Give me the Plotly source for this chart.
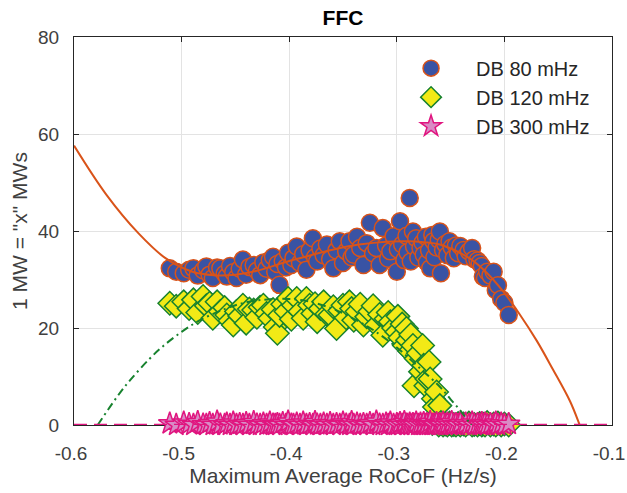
import plotly.graph_objects as go

# Shared RoCoF values (Hz/s) for each event
x = [-0.511, -0.505, -0.498, -0.493, -0.489, -0.485, -0.480, -0.477, -0.474, -0.471,
     -0.467, -0.464, -0.460, -0.458, -0.455, -0.452, -0.449, -0.446, -0.443, -0.440,
     -0.437, -0.433, -0.430, -0.427, -0.424, -0.421, -0.418, -0.415, -0.413, -0.411,
     -0.409, -0.406, -0.403, -0.401, -0.398, -0.396, -0.393, -0.390, -0.387, -0.384,
     -0.381, -0.378, -0.376, -0.374, -0.371, -0.368, -0.365, -0.362, -0.359, -0.356,
     -0.353, -0.350, -0.347, -0.344, -0.342, -0.340, -0.337, -0.334, -0.331, -0.328,
     -0.325, -0.322, -0.319, -0.316, -0.313, -0.310, -0.308, -0.306, -0.303, -0.300,
     -0.299, -0.297, -0.295, -0.293, -0.291, -0.290, -0.288, -0.287, -0.285, -0.284,
     -0.282, -0.280, -0.278, -0.276, -0.275, -0.273, -0.272, -0.270, -0.269, -0.267,
     -0.266, -0.265, -0.263, -0.261, -0.260, -0.259, -0.257, -0.255, -0.253, -0.251,
     -0.249, -0.247, -0.245, -0.243, -0.241, -0.238, -0.236, -0.233, -0.230, -0.228,
     -0.225, -0.223, -0.221, -0.220, -0.218, -0.216, -0.213, -0.210, -0.208, -0.206,
     -0.203, -0.200, -0.196]

db80 = [32.3, 31.6, 31.3, 32.0, 32.3, 30.8, 31.9, 32.7, 31.0, 30.3,
        32.5, 32.3, 31.2, 30.6, 32.8, 31.5, 30.3, 32.2, 34.1, 31.0,
        32.6, 33.0, 31.8, 30.9, 33.5, 32.2, 34.0, 34.7, 31.6, 33.2,
        28.9, 33.8, 32.5, 35.5, 33.0, 34.4, 36.8, 33.4, 35.2, 32.0,
        36.0, 38.5, 34.6, 33.7, 36.4, 35.0, 37.2, 34.2, 32.3, 36.0,
        37.9, 33.4, 35.8, 37.9, 34.6, 35.1, 38.8, 36.5, 33.0, 37.5,
        41.7, 35.4, 36.5, 33.0, 40.6, 37.0, 34.3, 35.8, 38.9, 31.6,
        36.2, 42.0, 37.2, 34.0, 39.0, 35.6, 46.8, 33.7, 39.9, 36.8,
        38.5, 34.5, 36.5, 37.6, 35.1, 38.8, 33.5, 36.0, 32.3, 39.2,
        37.9, 34.6, 36.6, 38.2, 39.9, 31.3, 36.1, 37.3, 35.0, 37.9,
        36.6, 34.4, 37.0, 35.4, 36.9, 36.1, 34.8, 35.8, 36.5, 34.2,
        33.9, 33.4, 32.8, 30.6, 30.3, 31.6, 30.8, 31.6, 27.8, 28.8,
        26.0, 25.2, 22.7]

db120 = [25.1, 24.5, 25.4, 24.0, 25.8, 23.2, 26.5, 24.6, 25.1, 22.0,
         25.4, 23.4, 24.2, 22.7, 21.5, 20.6, 23.4, 22.5, 24.7, 21.0,
         23.9, 23.7, 22.2, 24.3, 24.7, 23.0, 22.0, 23.8, 20.2, 18.9,
         22.6, 24.9, 23.4, 26.1, 21.8, 24.7, 26.1, 23.4, 22.0, 26.1,
         24.7, 23.0, 25.0, 21.3, 24.0, 25.4, 22.9, 22.7, 24.4, 19.9,
         23.6, 24.7, 22.1, 25.4, 24.0, 21.6, 23.4, 24.9, 20.6, 22.3,
         23.4, 24.6, 20.6, 22.8, 18.5, 21.9, 23.2, 21.3, 20.0, 19.2,
         22.4, 18.0, 20.8, 16.4, 19.9, 17.5, 15.2, 18.6, 16.4, 8.1,
         13.7, 14.8, 11.0, 16.4, 12.3, 8.1, 9.5, 13.0, 9.5, 0.3,
         5.4, 3.7, 6.8, 0.0, 4.0, 0.5, 0.0, 0.2, 0.0, 0.4,
         0.0, 0.1, 0.0, 0.3, 0.0, 0.2, 0.0, 0.4, 0.0, 0.1,
         0.0, 0.3, 0.0, 0.2, 0.0, 0.5, 0.0, 0.2, 0.0, 0.4,
         0.0, 0.2, 0.0]

db300 = [0.3, 0.0, 0.5, 0.2, 0.0, 0.6, 0.1, 0.0, 0.4, 0.0,
         0.7, 0.1, 0.0, 0.3, 0.0, 0.5, 0.0, 0.2, 0.0, 0.4,
         0.0, 0.6, 0.1, 0.0, 0.3, 0.0, 0.5, 0.1, 0.0, 0.2,
         0.0, 0.4, 0.0, 0.7, 0.1, 0.0, 0.3, 0.0, 0.5, 0.0,
         0.2, 0.0, 0.6, 0.1, 0.0, 0.3, 0.0, 0.4, 0.0, 0.2,
         0.0, 0.5, 0.1, 0.0, 0.6, 0.0, 0.3, 0.0, 0.2, 0.0,
         0.4, 0.0, 0.7, 0.1, 0.0, 0.3, 0.0, 0.5, 0.0, 0.2,
         0.0, 0.4, 0.0, 0.6, 0.1, 0.0, 0.3, 0.0, 0.2, 0.0,
         0.5, 0.0, 0.3, 0.0, 0.4, 0.0, 0.2, 0.0, 0.6, 0.0,
         0.1, 0.0, 0.4, 0.0, 0.2, 0.0, 0.5, 0.0, 0.3, 0.0,
         0.6, 0.0, 0.2, 0.0, 0.4, 0.0, 0.3, 0.0, 0.5, 0.0,
         0.2, 0.0, 0.4, 0.0, 0.3, 0.0, 0.2, 0.0, 0.5, 0.0,
         0.3, 0.0, 0.2]

# Fitted trend curves
fit80_x = [-0.60, -0.57, -0.54, -0.515, -0.49, -0.47, -0.45, -0.43, -0.40, -0.38,
           -0.355, -0.335, -0.31, -0.29, -0.275, -0.26, -0.232, -0.216, -0.201, -0.186,
           -0.170, -0.155, -0.139, -0.130, -0.125]
fit80_y = [57.6, 47.5, 39.5, 34.4, 31.6, 30.9, 31.0, 31.8, 33.8, 35.0,
           36.4, 37.2, 37.8, 37.9, 37.7, 37.2, 34.3, 31.3, 27.5, 22.9,
           17.4, 11.5, 4.9, 0.0, -3.0]

fit120_x = [-0.578, -0.56, -0.548, -0.53, -0.517, -0.50, -0.483, -0.46, -0.44, -0.42,
            -0.40, -0.38, -0.36, -0.347, -0.334, -0.32, -0.30, -0.28, -0.26, -0.25,
            -0.24, -0.232, -0.228]
fit120_y = [0.0, 5.8, 9.2, 13.6, 16.3, 19.2, 21.6, 23.9, 25.3, 25.9,
            26.0, 25.4, 24.0, 22.7, 21.2, 19.3, 16.0, 12.0, 7.9, 5.3,
            2.7, 0.3, -1.0]

fit300_x = [-0.60, -0.10]
fit300_y = [0.0, 0.0]

x_ticks = [-0.6, -0.5, -0.4, -0.3, -0.2, -0.1]
x_tick_text = ['-0.6', '-0.5', '-0.4', '-0.3', '-0.2', '-0.1']
y_ticks = [0, 20, 40, 60, 80]

fig = go.Figure()
fig.add_trace(go.Scatter(
    x=x, y=db80, mode='markers', name='DB 80 mHz', cliponaxis=False,
    marker=dict(symbol='circle', size=17, color='#3953A4',
                line=dict(color='#D95319', width=1.5))))
fig.add_trace(go.Scatter(
    x=x, y=db120, mode='markers', name='DB 120 mHz', cliponaxis=False,
    marker=dict(symbol='diamond', size=18, color='#F2EA16',
                line=dict(color='#17822E', width=1.5))))
fig.add_trace(go.Scatter(
    x=x, y=db300, mode='markers', name='DB 300 mHz', cliponaxis=False,
    marker=dict(symbol='star', size=17, color='#D98BC5',
                line=dict(color='#E0157F', width=1.5))))
fig.add_trace(go.Scatter(
    x=fit80_x, y=fit80_y, mode='lines', showlegend=False, hoverinfo='skip',
    line=dict(color='#D95319', width=2, shape='spline')))
fig.add_trace(go.Scatter(
    x=fit120_x, y=fit120_y, mode='lines', showlegend=False, hoverinfo='skip',
    line=dict(color='#17822E', width=2, shape='spline', dash='8px,4px,2px,4px')))
fig.add_trace(go.Scatter(
    x=fit300_x, y=fit300_y, mode='lines', showlegend=False, hoverinfo='skip',
    line=dict(color='#E0157F', width=2.5, dash='13px,7px')))

axis_common = dict(
    showline=True, linecolor='#262626', linewidth=1, mirror='ticks',
    ticks='inside', ticklen=5, tickcolor='#262626', tickwidth=1,
    showgrid=True, gridcolor='#E3E3E3', gridwidth=1, zeroline=False,
    tickfont=dict(size=19, color='#404040'), layer='below traces',
    ticklabeloverflow='allow', automargin=False,
)

fig.update_layout(
    width=627, height=493,
    margin=dict(l=74, r=15, t=37, b=68, autoexpand=False),
    paper_bgcolor='white', plot_bgcolor='white',
    font=dict(family='Arial, Liberation Sans, Arimo, sans-serif', color='#262626'),
    title=dict(text='<b>FFC</b>', x=0.5, xref='paper', xanchor='center',
               y=1 - 18 / 493, yref='container', yanchor='middle',
               font=dict(size=21, color='#000000')),
    xaxis=dict(range=[-0.6, -0.1], tickvals=x_ticks, ticktext=x_tick_text,
               ticklabelstandoff=11, ticklabelshift=-3,
               title=dict(text='Maximum Average RoCoF (Hz/s)', standoff=4,
                          font=dict(size=21, color='#404040')),
               **axis_common),
    yaxis=dict(range=[0, 80], tickvals=y_ticks, ticklabelstandoff=10,
               title=dict(text='1 MW = "x" MWs', standoff=4,
                          font=dict(size=21, color='#404040')),
               **axis_common),
    legend=dict(x=0.58, y=0.970, xanchor='left', yanchor='top',
                bgcolor='rgba(0,0,0,0)', borderwidth=0, itemwidth=80,
                font=dict(size=20, color='#262626')),
    showlegend=True,
)

fig.write_html("out.html")
